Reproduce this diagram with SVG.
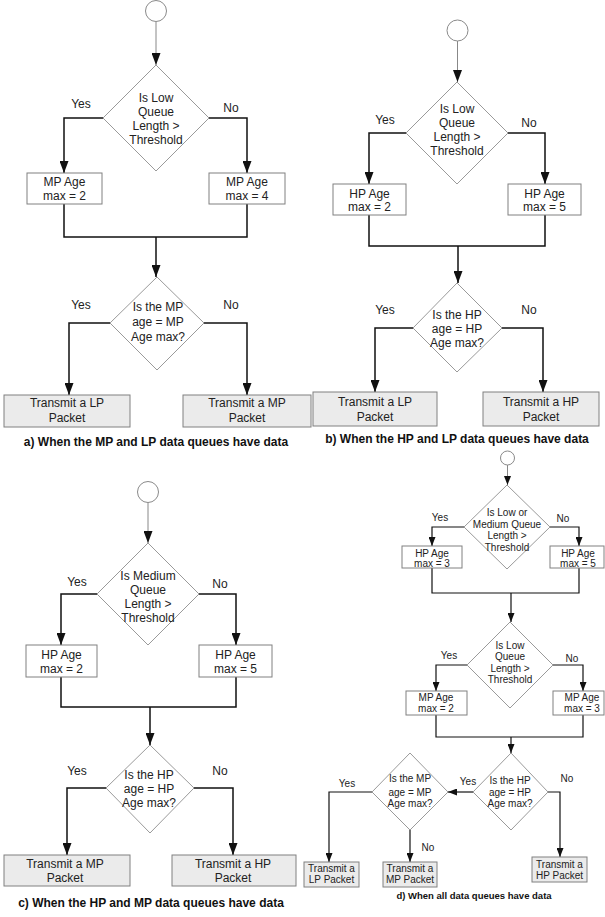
<svg xmlns="http://www.w3.org/2000/svg" width="605" height="917" viewBox="0 0 605 917">
<defs>
<style>
text{font-family:"Liberation Sans",Arial,sans-serif;fill:#222;text-anchor:middle}
.t{font-size:12px}
.s{font-size:10px}
.cap{font-size:12px;font-weight:bold;fill:#111}
.capd{font-size:9.5px;font-weight:bold;fill:#111}
.dia{fill:#fff;stroke:#9a9a9a;stroke-width:1}
.box{fill:#fff;stroke:#808080;stroke-width:1}
.tx{fill:#ebebeb;stroke:#808080;stroke-width:1}
.st{fill:#fff;stroke:#8a8a8a;stroke-width:1}
.c{fill:none;stroke:#111;stroke-width:1.5}
.cs{fill:none;stroke:#111;stroke-width:1.2}
.g{fill:none;stroke:#888;stroke-width:1}
</style>
<marker id="ah" markerUnits="userSpaceOnUse" markerWidth="12" markerHeight="9" refX="12" refY="4.5" orient="auto"><path d="M0,0 L12,4.5 L0,9 z" fill="#111"/></marker>
<marker id="as" markerUnits="userSpaceOnUse" markerWidth="9" markerHeight="7" refX="9" refY="3.5" orient="auto"><path d="M0,0 L9,3.5 L0,7 z" fill="#111"/></marker>
</defs>
<rect width="605" height="917" fill="#fff"/>

<g id="connectors">
<!-- panel a -->
<line class="g" x1="156" y1="22" x2="156" y2="65" marker-end="url(#ah)"/>
<polyline class="c" points="103,118 64,118 64,173" marker-end="url(#ah)"/>
<polyline class="c" points="209,118 247,118 247,173" marker-end="url(#ah)"/>
<polyline class="c" points="64,204 64,237 247,237 247,204"/>
<line class="c" x1="156" y1="237" x2="156" y2="277" marker-end="url(#ah)"/>
<polyline class="c" points="110,323 69,323 69,395" marker-end="url(#ah)"/>
<polyline class="c" points="204,323 247,323 247,395" marker-end="url(#ah)"/>
<!-- panel b -->
<line class="g" x1="457.5" y1="41" x2="457.5" y2="82" marker-end="url(#ah)"/>
<polyline class="c" points="406,133 369,133 369,184" marker-end="url(#ah)"/>
<polyline class="c" points="508,133 545,133 545,184" marker-end="url(#ah)"/>
<polyline class="c" points="369,215 369,246 545,246 545,215"/>
<line class="c" x1="458" y1="246" x2="458" y2="283" marker-end="url(#ah)"/>
<polyline class="c" points="413,328 375,328 375,392" marker-end="url(#ah)"/>
<polyline class="c" points="502,328 543,328 543,392" marker-end="url(#ah)"/>
<!-- panel c -->
<line class="g" x1="148" y1="502.5" x2="148" y2="543" marker-end="url(#ah)"/>
<polyline class="c" points="97,594 61,594 61,645" marker-end="url(#ah)"/>
<polyline class="c" points="199,594 236,594 236,645" marker-end="url(#ah)"/>
<polyline class="c" points="61,677 61,707 236,707 236,677"/>
<line class="c" x1="150" y1="707" x2="150" y2="745" marker-end="url(#ah)"/>
<polyline class="c" points="106,788 67,788 67,855" marker-end="url(#ah)"/>
<polyline class="c" points="194,788 233,788 233,855" marker-end="url(#ah)"/>
<!-- panel d -->
<line class="g" x1="507.5" y1="465" x2="507.5" y2="485" marker-end="url(#as)"/>
<polyline class="cs" points="464,527 432,527 432,546" marker-end="url(#as)"/>
<polyline class="cs" points="550,527 579,527 579,546" marker-end="url(#as)"/>
<polyline class="cs" points="432,568 432,593 579,593 579,568"/>
<line class="cs" x1="511" y1="593" x2="511" y2="622" marker-end="url(#as)"/>
<polyline class="cs" points="467,665 436,665 436,691" marker-end="url(#as)"/>
<polyline class="cs" points="553,665 583,665 583,691" marker-end="url(#as)"/>
<polyline class="cs" points="436,715 436,737 583,737 583,715"/>
<line class="cs" x1="511" y1="737" x2="511" y2="753" marker-end="url(#as)"/>
<line class="cs" x1="473" y1="792" x2="448" y2="792" marker-end="url(#as)"/>
<polyline class="cs" points="372,792 329,792 329,862" marker-end="url(#as)"/>
<line class="cs" x1="410" y1="830" x2="410" y2="862" marker-end="url(#as)"/>
<polyline class="cs" points="548,792 560,792 560,857" marker-end="url(#as)"/>
<!-- labels -->
<g class="t">
<text x="81" y="108">Yes</text><text x="231" y="112">No</text>
<text x="81" y="309">Yes</text><text x="231" y="309">No</text>
<text x="385" y="124">Yes</text><text x="529" y="127">No</text>
<text x="385" y="314">Yes</text><text x="529" y="314">No</text>
<text x="77" y="586">Yes</text><text x="220" y="588">No</text>
<text x="77" y="775">Yes</text><text x="220" y="775">No</text>
</g>
<g class="s">
<text x="440" y="520.5">Yes</text><text x="563" y="521.5">No</text>
<text x="449" y="658.5">Yes</text><text x="572" y="661.5">No</text>
<text x="468" y="784.5">Yes</text><text x="567" y="781.5">No</text>
<text x="347" y="786.5">Yes</text><text x="428" y="850.5">No</text>
</g>
</g>

<!-- ===== panel a ===== -->
<g id="a-start"><circle class="st" cx="156" cy="11" r="10.5"/></g>
<g id="a-dec1"><polygon class="dia" points="156,65 209,118 156,171 103,118"/>
<text class="t" x="156" y="102">Is Low</text><text class="t" x="156" y="116">Queue</text><text class="t" x="156" y="130">Length &gt;</text><text class="t" x="156" y="144">Threshold</text></g>
<g id="a-box1"><rect class="box" x="27" y="173" width="75" height="31"/><text class="t" x="64.5" y="185.5">MP Age</text><text class="t" x="64.5" y="199.5">max = 2</text></g>
<g id="a-box2"><rect class="box" x="209" y="173" width="76" height="31"/><text class="t" x="247" y="185.5">MP Age</text><text class="t" x="247" y="199.5">max = 4</text></g>
<g id="a-dec2"><polygon class="dia" points="157,277 204,323 157,370 110,323"/>
<text class="t" x="158" y="311">Is the MP</text><text class="t" x="158" y="326">age = MP</text><text class="t" x="158" y="341">Age max?</text></g>
<g id="a-tx1"><rect class="tx" x="4" y="395" width="126" height="32"/><text class="t" x="67" y="407">Transmit a LP</text><text class="t" x="67" y="421.5">Packet</text></g>
<g id="a-tx2"><rect class="tx" x="183" y="395" width="128" height="32"/><text class="t" x="247" y="407">Transmit a MP</text><text class="t" x="247" y="421.5">Packet</text></g>
<text class="cap" x="156" y="446">a) When the MP and LP data queues have data</text>

<!-- ===== panel b ===== -->
<g id="b-start"><circle class="st" cx="457.5" cy="30.5" r="10.5"/></g>
<g id="b-dec1"><polygon class="dia" points="457,82 508,133 457,184 406,133"/>
<text class="t" x="457" y="113">Is Low</text><text class="t" x="457" y="127">Queue</text><text class="t" x="457" y="141">Length &gt;</text><text class="t" x="457" y="155">Threshold</text></g>
<g id="b-box1"><rect class="box" x="333" y="184" width="73" height="31"/><text class="t" x="369.5" y="197.5">HP Age</text><text class="t" x="369.5" y="210.5">max = 2</text></g>
<g id="b-box2"><rect class="box" x="508" y="184" width="73" height="31"/><text class="t" x="544.5" y="197.5">HP Age</text><text class="t" x="544.5" y="210.5">max = 5</text></g>
<g id="b-dec2"><polygon class="dia" points="457,283 502,328 457,372 413,328"/>
<text class="t" x="457" y="319">Is the HP</text><text class="t" x="457" y="333">age = HP</text><text class="t" x="457" y="347">Age max?</text></g>
<g id="b-tx1"><rect class="tx" x="313" y="392" width="124" height="34"/><text class="t" x="375" y="405.5">Transmit a LP</text><text class="t" x="375" y="420.5">Packet</text></g>
<g id="b-tx2"><rect class="tx" x="483" y="392" width="116" height="34"/><text class="t" x="541" y="405.5">Transmit a HP</text><text class="t" x="541" y="420.5">Packet</text></g>
<text class="cap" x="457" y="443">b) When the HP and LP data queues have data</text>

<!-- ===== panel c ===== -->
<g id="c-start"><circle class="st" cx="148" cy="492" r="10.5"/></g>
<g id="c-dec1"><polygon class="dia" points="148,543 199,594 148,645 97,594"/>
<text class="t" x="148" y="580">Is Medium</text><text class="t" x="148" y="594">Queue</text><text class="t" x="148" y="608">Length &gt;</text><text class="t" x="148" y="622">Threshold</text></g>
<g id="c-box1"><rect class="box" x="26" y="645" width="71" height="32"/><text class="t" x="61.5" y="658.5">HP Age</text><text class="t" x="61.5" y="672.5">max = 2</text></g>
<g id="c-box2"><rect class="box" x="199" y="645" width="73" height="32"/><text class="t" x="235.5" y="658.5">HP Age</text><text class="t" x="235.5" y="672.5">max = 5</text></g>
<g id="c-dec2"><polygon class="dia" points="150,745 194,788 150,833 106,788"/>
<text class="t" x="149" y="779">Is the HP</text><text class="t" x="149" y="793">age = HP</text><text class="t" x="149" y="807">Age max?</text></g>
<g id="c-tx1"><rect class="tx" x="4" y="855" width="126" height="31"/><text class="t" x="65" y="868">Transmit a MP</text><text class="t" x="65" y="882">Packet</text></g>
<g id="c-tx2"><rect class="tx" x="172" y="855" width="124" height="31"/><text class="t" x="233" y="868">Transmit a HP</text><text class="t" x="233" y="882">Packet</text></g>
<text class="cap" x="151" y="907">c) When the HP and MP data queues have data</text>

<!-- ===== panel d ===== -->
<g id="d-start"><circle class="st" cx="507.5" cy="458" r="7"/></g>
<g id="d-dec1"><polygon class="dia" points="507,485 550,527 507,569 464,527"/>
<text class="s" x="507" y="516">Is Low or</text><text class="s" x="507" y="527.5">Medium Queue</text><text class="s" x="507" y="539">Length &gt;</text><text class="s" x="507" y="550.5">Threshold</text></g>
<g id="d-box1"><rect class="box" x="402" y="546" width="60" height="22"/><text class="s" x="432" y="556.5">HP Age</text><text class="s" x="432" y="566.5">max = 3</text></g>
<g id="d-box2"><rect class="box" x="550" y="546" width="54" height="22"/><text class="s" x="578" y="556.5">HP Age</text><text class="s" x="578" y="566.5">max = 5</text></g>
<g id="d-dec2"><polygon class="dia" points="510,622 553,665 510,708 467,665"/>
<text class="s" x="510" y="648.5">Is Low</text><text class="s" x="510" y="660">Queue</text><text class="s" x="510" y="671.5">Length &gt;</text><text class="s" x="510" y="683">Threshold</text></g>
<g id="d-box3"><rect class="box" x="406" y="691" width="61" height="24"/><text class="s" x="436" y="700.5">MP Age</text><text class="s" x="436" y="711.5">max = 2</text></g>
<g id="d-box4"><rect class="box" x="553" y="691" width="51" height="24"/><text class="s" x="582" y="700.5">MP Age</text><text class="s" x="582" y="711.5">max = 3</text></g>
<g id="d-dec3"><polygon class="dia" points="511,753 548,792 511,830 473,792"/>
<text class="s" x="510" y="783.5">Is the HP</text><text class="s" x="510" y="795.5">age = HP</text><text class="s" x="510" y="806.5">Age max?</text></g>
<g id="d-dec4"><polygon class="dia" points="410,753 448,792 410,830 372,792"/>
<text class="s" x="410" y="782">Is the MP</text><text class="s" x="410" y="795.5">age = MP</text><text class="s" x="410" y="806.5">Age max?</text></g>
<g id="d-tx1"><rect class="tx" x="304" y="862" width="55" height="25"/><text class="s" x="331.5" y="872">Transmit a</text><text class="s" x="331.5" y="883">LP Packet</text></g>
<g id="d-tx2"><rect class="tx" x="383" y="862" width="54" height="25"/><text class="s" x="410" y="872">Transmit a</text><text class="s" x="410" y="883">MP Packet</text></g>
<g id="d-tx3"><rect class="tx" x="532" y="857" width="55" height="25"/><text class="s" x="559.5" y="867.5">Transmit a</text><text class="s" x="559.5" y="878.5">HP Packet</text></g>
<text class="capd" x="474" y="898.5">d) When all data queues have data</text>
</svg>
